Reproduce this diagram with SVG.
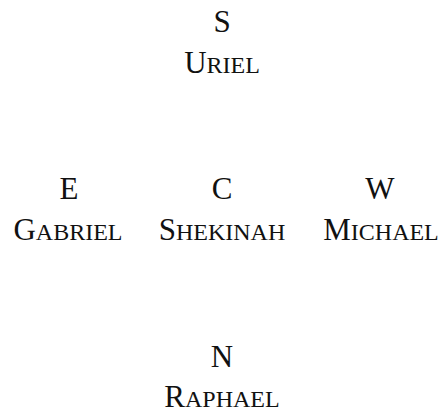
<svg xmlns="http://www.w3.org/2000/svg" width="444" height="416" viewBox="0 0 444 416">
<style>
text{font-family:"Liberation Serif","DejaVu Serif",serif;font-size:31px;fill:#111111;text-anchor:middle}
.sc{font-size:24px}
</style>
<rect width="444" height="416" fill="#ffffff"/>
<g id="connectors"/>
<g id="south"><text x="222" y="32">S</text><text x="222" y="73">U<tspan class="sc">RIEL</tspan></text></g>
<g id="east"><text x="69" y="199">E</text><text x="68" y="240">G<tspan class="sc">ABRIEL</tspan></text></g>
<g id="center"><text x="222" y="199">C</text><text x="222" y="240">S<tspan class="sc">HEKINAH</tspan></text></g>
<g id="west"><text x="380" y="199">W</text><text x="381" y="240">M<tspan class="sc">ICHAEL</tspan></text></g>
<g id="north"><text x="222" y="367">N</text><text x="222" y="407">R<tspan class="sc">APHAEL</tspan></text></g>
</svg>
